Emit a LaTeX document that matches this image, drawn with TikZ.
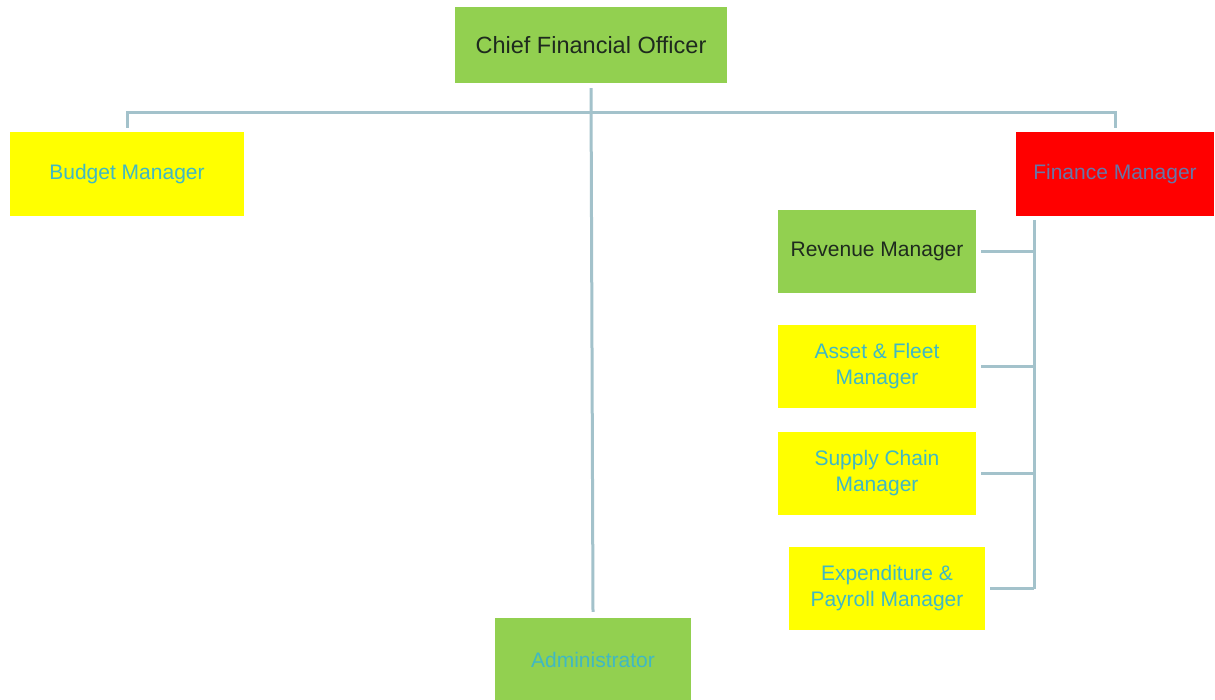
\documentclass[tikz,border=0pt]{standalone}
\usepackage{fontspec}
\setmainfont{Liberation Sans}
\definecolor{boxgreen}{HTML}{92D050}
\definecolor{boxyellow}{HTML}{FFFF00}
\definecolor{boxred}{HTML}{FF0000}
\definecolor{connc}{HTML}{A3C2CB}
\definecolor{txtteal}{HTML}{3FB8C4}
\definecolor{txtblue}{HTML}{6676A8}
\definecolor{txtdark}{HTML}{1E2A1E}
\tikzset{
  box/.style={rectangle, inner sep=0pt, align=center, font=\fontsize{21}{26}\selectfont},
  conn/.style={draw=connc, line width=3pt},
}
\begin{document}
\begin{tikzpicture}[x=1pt,y=-1pt]
\useasboundingbox (0,0) rectangle (1215,699);
\fill[white] (0,0) rectangle (1215,699);
\node[box, fill=boxgreen, text=txtdark, minimum width=272pt, minimum height=76pt, font=\fontsize{23.5}{28}\selectfont] (cfo) at (591,45) {Chief Financial Officer};
\node[box, fill=boxyellow, text=txtteal, minimum width=234pt, minimum height=84pt] (budget) at (127,174) {Budget Manager};
\node[box, fill=boxred, text=txtblue, minimum width=198pt, minimum height=84pt] (fin) at (1115,174) {Finance Manager};
\node[box, fill=boxgreen, text=txtdark, minimum width=198pt, minimum height=83pt] (rev) at (877,251.5) {Revenue Manager};
\node[box, fill=boxyellow, text=txtteal, minimum width=198pt, minimum height=83pt] (asset) at (877,366.5) {Asset \& Fleet\\Manager};
\node[box, fill=boxyellow, text=txtteal, minimum width=198pt, minimum height=83pt] (supply) at (877,473.5) {Supply Chain\\Manager};
\node[box, fill=boxyellow, text=txtteal, minimum width=196pt, minimum height=83pt] (exp) at (887,588.5) {Expenditure \&\\Payroll Manager};
\node[box, fill=boxgreen, text=txtteal, minimum width=196pt, minimum height=84pt] (admin) at (593,660) {Administrator};
\coordinate (bus) at (0,112);
\coordinate (trunk) at (1034,0);
\draw[conn] ([yshift=4pt]budget.north) -- (budget.north |- bus) -- (fin.north |- bus) -- ([yshift=4pt]fin.north);
\draw[conn] ([yshift=-5pt]cfo.south) -- ([yshift=6pt]admin.north);
\draw[conn] ([yshift=-4pt]fin.south -| trunk) -- (trunk |- exp.east);
\draw[conn] ([xshift=5pt]rev.east) -- (rev.east -| trunk);
\draw[conn] ([xshift=5pt]asset.east) -- (asset.east -| trunk);
\draw[conn] ([xshift=5pt]supply.east) -- (supply.east -| trunk);
\draw[conn] ([xshift=5pt]exp.east) -- (exp.east -| trunk);
\end{tikzpicture}
\end{document}
